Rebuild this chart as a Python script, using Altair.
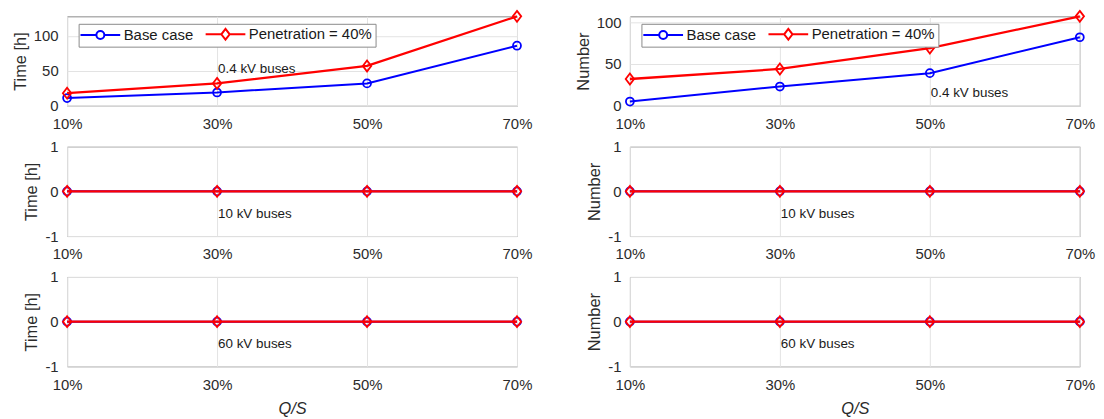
import altair as alt
import pandas as pd

# ---------------- data ----------------
qs = [10, 30, 50, 70]                      # Q/S in %
x_ticks = [10, 30, 50, 70]
series_names = ["Base case", "Penetration = 40%"]
series_colors = ["#0000ff", "#ff0000"]

time_04_base = [11, 19, 32, 86]
time_04_pen = [18, 32, 57, 128]
num_04_base = [5, 23, 39, 82]
num_04_pen = [32, 44, 69, 107]
time_10_base = [0, 0, 0, 0]
time_10_pen = [0, 0, 0, 0]
num_10_base = [0, 0, 0, 0]
num_10_pen = [0, 0, 0, 0]
time_60_base = [0, 0, 0, 0]
time_60_pen = [0, 0, 0, 0]
num_60_base = [0, 0, 0, 0]
num_60_pen = [0, 0, 0, 0]

top_left_ticks = [0, 50, 100]
top_right_ticks = [0, 50, 100]
flat_ticks = [-1, 0, 1]

annot_texts = ["0.4 kV buses", "0.4 kV buses", "10 kV buses", "10 kV buses", "60 kV buses", "60 kV buses"]
annot_x = [30, 50, 30, 30, 30, 30]
annot_y = [53, 15, -0.5, -0.5, -0.5, -0.5]

FONT = "Liberation Sans"
W, H = 453, 90

circle_path = "M-5,0L-1,0M1,0L5,0M-1,0A1,1,0,1,1,1,0A1,1,0,1,1,-1,0Z"
diamond_path = "M-5,0L-1.05,0M1.05,0L5,0M0,-1.35L1.05,0L0,1.35L-1.05,0Z"
marker_diamond = "M0,-1.3L1,0L0,1.3L-1,0Z"


def make_panel(base, pen, ydomain, yticks, ytitle, idx, legend, xtitle):
    df_b = pd.DataFrame({"qs": qs, "v": base, "s": series_names[0]})
    df_p = pd.DataFrame({"qs": qs, "v": pen, "s": series_names[1]})
    xenc = alt.X("qs:Q", scale=alt.Scale(domain=[10, 70], nice=False),
                 axis=alt.Axis(values=x_ticks, labelExpr="datum.value + '%'",
                               title="Q/S" if xtitle else None,
                               titleFontStyle="italic", labelFlush=False))
    yenc = alt.Y("v:Q", scale=alt.Scale(domain=ydomain, nice=False, zero=False),
                 axis=alt.Axis(values=yticks, title=ytitle, labelExpr="'' + datum.value"))
    layers = []
    for df, col, shp, sz, lw in [(df_b, series_colors[0], "circle", 64, 2),
                                 (df_p, series_colors[1], marker_diamond, 72, 2.3)]:
        base_ch = alt.Chart(df)
        layers.append(base_ch.mark_line(color=col, strokeWidth=lw).encode(x=xenc, y=yenc))
        layers.append(base_ch.mark_point(color=col, shape=shp, filled=False, size=sz,
                                         strokeWidth=1.8, opacity=1).encode(x=xenc, y=yenc))
    ann = pd.DataFrame({"qs": [annot_x[idx]], "v": [annot_y[idx]], "t": [annot_texts[idx]]})
    layers.append(alt.Chart(ann).mark_text(align="left", baseline="middle", dx=1, fontSize=13.5,
                                           font=FONT, color="#1a1a1a").encode(x=xenc, y=yenc, text="t:N"))
    if legend:
        df_all = pd.concat([df_b, df_p], ignore_index=True)
        leg = alt.Legend(title=None, orient="none", legendX=11.6, legendY=7.5, direction="horizontal",
                         columns=2, columnPadding=7, symbolSize=64, symbolStrokeWidth=2,
                         symbolOffset=11.4, labelOffset=16, labelFontSize=15, labelFont=FONT,
                         labelColor="#1a1a1a", padding=3, strokeColor="#8a8a8a", fillColor="white",
                         symbolFillColor="transparent", symbolOpacity=1)
        layers.append(alt.Chart(df_all).mark_point(filled=False, opacity=0).encode(
            x=xenc, y=yenc,
            color=alt.Color("s:N", scale=alt.Scale(domain=series_names, range=series_colors), legend=leg),
            shape=alt.Shape("s:N", scale=alt.Scale(domain=series_names, range=[circle_path, diamond_path]), legend=leg),
        ))
    return alt.layer(*layers).properties(width=W, height=H).resolve_scale(color="independent", shape="independent")


panels = [
    make_panel(time_04_base, time_04_pen, [0, 128], top_left_ticks, "Time [h]", 0, True, False),
    make_panel(num_04_base, num_04_pen, [0, 107], top_right_ticks, "Number", 1, True, False),
    make_panel(time_10_base, time_10_pen, [-1, 1], flat_ticks, "Time [h]", 2, False, False),
    make_panel(num_10_base, num_10_pen, [-1, 1], flat_ticks, "Number", 3, False, False),
    make_panel(time_60_base, time_60_pen, [-1, 1], flat_ticks, "Time [h]", 4, False, True),
    make_panel(num_60_base, num_60_pen, [-1, 1], flat_ticks, "Number", 5, False, True),
]

chart = alt.concat(*panels, columns=2, spacing={"row": 41.2, "column": 113.7}, bounds="flush").resolve_legend(
    color="independent", shape="independent").resolve_scale(color="independent", shape="independent").properties(
    padding={"left": 3.5, "top": -3, "right": 0, "bottom": 0}
).configure_view(stroke="#8a8a8a", strokeWidth=1).configure_axis(
    grid=True, gridColor="#e3e3e3", gridWidth=1, ticks=False, domain=False,
    labelFont=FONT, labelFontSize=15, labelColor="#2b2b2b", labelPadding=8,
    titleFont=FONT, titleFontSize=16.5, titleFontWeight="normal", titleColor="#2b2b2b", titlePadding=5,
).configure_axisX(labelPadding=11, titlePadding=8).configure_axisY(labelPadding=9)

chart.save("out.html", embed_options={"renderer": "svg", "actions": False})
